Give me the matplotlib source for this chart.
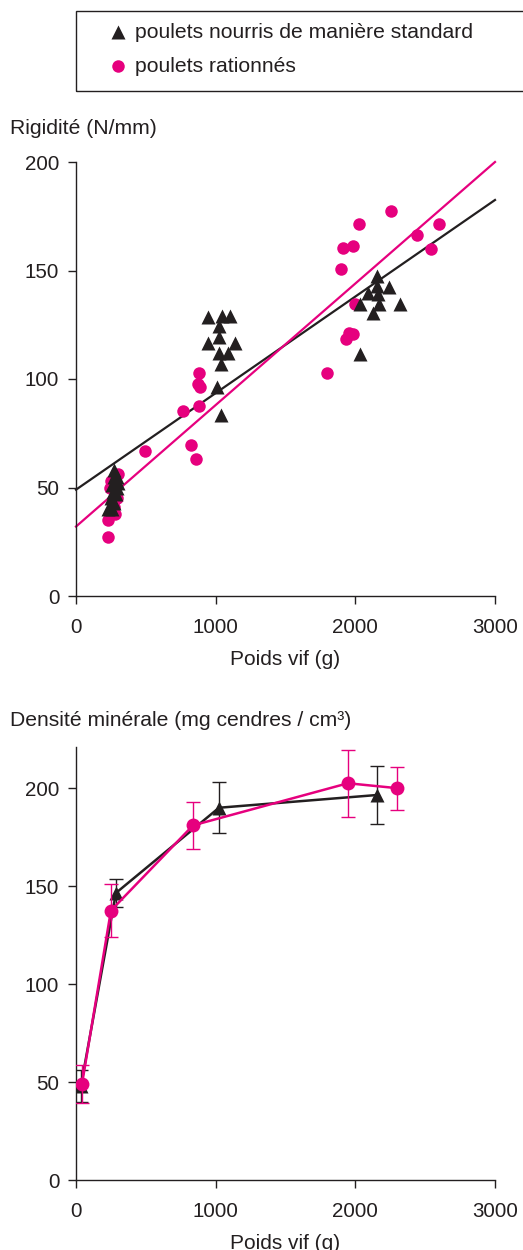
import matplotlib.pyplot as plt
from matplotlib.lines import Line2D
from matplotlib.patches import Rectangle

plt.rcParams['font.family'] = ['Liberation Sans', 'DejaVu Sans']

BLACK = '#231F20'
PINK = '#E6007E'

# --- Rigidité : poulets standard (triangles)
std_x = [270, 275, 280, 260, 290, 265, 285, 250, 275, 240, 260, 230, 290, 300,
         945, 1045, 1102, 1024, 1024, 945, 1138, 1024, 1088, 1038, 1009, 1038,
         2155, 2155, 2090, 2240, 2162, 2033, 2169, 2319, 2126, 2033]
std_y = [58, 55, 53, 51, 50, 48, 47, 45, 43, 41, 40, 40, 55, 52,
         128.6, 129, 129, 124.4, 119.4, 116.6, 116.6, 112, 112, 107, 96.3, 83.4,
         147.5, 142.9, 139.6, 142.4, 139.2, 134.6, 134.6, 134.6, 130.4, 111.5]

# --- Rigidité : poulets rationnés (cercles)
rat_x = [300, 250, 240, 290, 270, 280, 230, 230, 494,
         880, 873, 885, 766, 880, 823, 859,
         2255, 2026, 1911, 1983, 1897, 2441, 2598, 2541, 1997, 1954, 1983, 1933, 1797]
rat_y = [56, 53, 50, 45, 41, 38, 35, 27, 66.8,
         102.8, 97.7, 96.5, 85.3, 87.6, 69.6, 63.1,
         177.4, 171.4, 160.4, 161.3, 150.7, 166.4, 171.4, 160, 134.6, 121.2, 120.7, 118.4, 102.8]

# droites de régression (ordonnée, pente)
std_fit = (49, 0.0445)
rat_fit = (32, 0.056)

# --- Densité minérale
dens_std_x = [35, 286, 1024, 2155]
dens_std_y = [48, 146.5, 190, 196.5]
dens_std_err = [8, 7, 13, 15]
dens_rat_x = [43, 250, 838, 1947, 2298]
dens_rat_y = [49, 137.5, 181, 202.5, 200]
dens_rat_err = [9.5, 13.5, 12, 17, 11]

xticks = [0, 1000, 2000, 3000]
labels = ['poulets nourris de manière standard', 'poulets rationnés']

W, H = 523, 1250
fig = plt.figure(figsize=(W / 100, H / 100), dpi=100)
ax1 = fig.add_axes([76 / W, 1 - 596 / H, 419 / W, 434 / H])
ax2 = fig.add_axes([76 / W, 1 - 1180 / H, 419 / W, 433 / H])

for ax in (ax1, ax2):
    ax.spines['top'].set_visible(False)
    ax.spines['right'].set_visible(False)
    for s in ('left', 'bottom'):
        ax.spines[s].set_color(BLACK)
        ax.spines[s].set_linewidth(1.0)
    ax.tick_params(direction='out', length=6, width=1.0, color=BLACK,
                   labelsize=14.8, labelcolor=BLACK)
    ax.tick_params(axis='x', pad=10)
    ax.tick_params(axis='y', pad=6)
    ax.set_xlim(0, 3000)
    ax.set_xticks(xticks)
    ax.set_xlabel('Poids vif (g)', fontsize=15, color=BLACK, labelpad=9)

# graphique du haut
xs = [0, 3000]
ax1.plot(xs, [std_fit[0] + std_fit[1] * x for x in xs], color=BLACK, lw=1.6,
         zorder=2, clip_on=False)
ax1.plot(xs, [rat_fit[0] + rat_fit[1] * x for x in xs], color=PINK, lw=1.6,
         zorder=2, clip_on=False)
ax1.plot(rat_x, rat_y, 'o', color=PINK, ms=9, mec='none', zorder=3)
ax1.plot(std_x, std_y, '^', color=BLACK, ms=9.5, mec='none', zorder=4)
ax1.set_ylim(0, 200)
ax1.set_yticks([0, 50, 100, 150, 200])

# graphique du bas
ax2.errorbar(dens_std_x, dens_std_y, yerr=dens_std_err, color=BLACK, lw=1.8,
             marker='^', ms=10, mec='none', elinewidth=1.0, capsize=5,
             capthick=1.0, zorder=3)
ax2.errorbar(dens_rat_x, dens_rat_y, yerr=dens_rat_err, color=PINK, lw=1.8,
             marker='o', ms=10, mec='none', elinewidth=1.0, capsize=5,
             capthick=1.0, zorder=4)
ax2.set_ylim(0, 221)
ax2.set_yticks([0, 50, 100, 150, 200])

fig.text(10 / W, 1 - 128 / H, 'Rigidité (N/mm)', fontsize=15.2,
         color=BLACK, va='center', ha='left')
fig.text(10 / W, 1 - 720 / H, 'Densité minérale (mg cendres / cm³)',
         fontsize=15.2, color=BLACK, va='center', ha='left')

# légende (cadre dessiné à la main)
fig.add_artist(Rectangle((76 / W, 1 - 91 / H), 450 / W, 80 / H,
                         transform=fig.transFigure, fill=False,
                         edgecolor=BLACK, lw=1.0))
for (mk, col, ms), lab, yy in zip([('^', BLACK, 9.5), ('o', PINK, 9)], labels, [32, 66]):
    fig.add_artist(Line2D([118 / W], [1 - yy / H], transform=fig.transFigure,
                          ls='none', marker=mk, color=col, ms=ms, mec='none'))
    fig.text(135 / W, 1 - yy / H, lab, fontsize=15.2, color=BLACK,
             va='center', ha='left')

fig.savefig('out.png', dpi=100)
